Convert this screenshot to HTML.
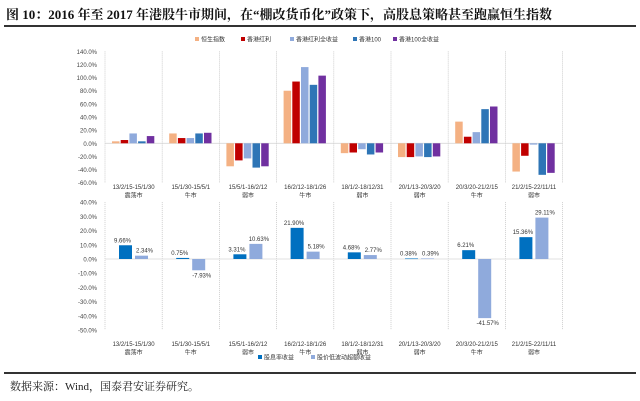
<!DOCTYPE html>
<html><head><meta charset="utf-8">
<style>
html,body{margin:0;padding:0;background:#fff;}
body{width:640px;height:401px;overflow:hidden;position:relative;font-family:"Liberation Serif","Noto Serif CJK SC",serif;}
#title{position:absolute;left:6px;top:4px;font-size:13px;font-weight:bold;color:#111;white-space:nowrap;}
#tline{position:absolute;left:4px;top:25px;width:632px;height:1.5px;background:#333;}
#bline{position:absolute;left:4px;top:372px;width:632px;height:1.5px;background:#333;}
#src{position:absolute;left:10px;top:378px;font-size:11px;color:#222;}
svg{position:absolute;left:0;top:0;}
</style></head><body>
<div id="title">图 10：2016 年至 2017 年港股牛市期间，在“棚改货币化”政策下，高股息策略甚至跑赢恒生指数</div>
<div id="tline"></div>
<svg id="chart" width="640" height="401"></svg>
<div id="bline"></div>
<div id="src">数据来源：Wind，国泰君安证券研究。</div>
<script>
const categories = ["13/2/15-15/1/30","15/1/30-15/5/1","15/5/1-16/2/12","16/2/12-18/1/26","18/1/2-18/12/31","20/1/13-20/3/20","20/3/20-21/2/15","21/2/15-22/11/11"];
const phases = ["震荡市","牛市","弱市","牛市","弱市","弱市","牛市","弱市"];
const topSeriesNames = ["恒生指数","香港红利","香港红利全收益","香港100","香港100全收益"];
const hsi = [3,15,-35,80,-15,-21,33,-43];
const hkDiv = [5,8,-26,94,-14,-21,10,-19];
const hkDivTR = [15,8,-23,116,-9,-20,17,-2];
const hk100 = [3,15,-37,89,-17,-21,52,-48];
const hk100TR = [11,16,-35,103,-14,-20,56,-45];
const topTicks = [140,120,100,80,60,40,20,0,-20,-40,-60];
const bottomSeriesNames = ["股息率收益","股价低波动超额收益"];
const divYield = [9.66,0.75,3.31,21.90,4.68,0.38,6.21,15.36];
const lowVol = [2.34,-7.93,10.63,5.18,2.77,0.39,-41.57,29.11];
const bottomTicks = [40,30,20,10,0,-10,-20,-30,-40,-50];

const topColors = ["#F4B183","#C00000","#8FAADC","#2E75B6","#7030A0"];
const botColors = ["#0070C0","#8FAADC"];
const svg = document.getElementById('chart');
const NS = "http://www.w3.org/2000/svg";
function mk(tag, attrs, parent){const e=document.createElementNS(NS,tag);for(const k in attrs)e.setAttribute(k,attrs[k]);(parent||svg).appendChild(e);return e;}
const X0=105, GW=57.2, N=categories.length;
const yTop = v => 143.3 - v*(131.4/200);
const yBot = v => 259 - v*(128/90);
const F = '"Liberation Sans","Noto Sans CJK SC",sans-serif';

topTicks.forEach(t=>{
  const tx=mk('text',{x:97,y:yTop(t)+2.5,'text-anchor':'end','font-size':6,'font-family':F,fill:'#444'});
  tx.textContent=t.toFixed(1)+'%';
  
  
});
bottomTicks.forEach(t=>{
  const tx=mk('text',{x:97,y:yBot(t)+2.5,'text-anchor':'end','font-size':6,'font-family':F,fill:'#444'});
  tx.textContent=t.toFixed(1)+'%';
  
  
});
for(let i=0;i<=N;i++){
  const x=X0+i*GW;
  const d1=mk('line',{x1:x,x2:x,y1:yTop(140),y2:yTop(-60),stroke:'#bbb','stroke-dasharray':'1,1','stroke-width':0.7});
  
  
  const d2=mk('line',{x1:x,x2:x,y1:yBot(40),y2:yBot(-50),stroke:'#bbb','stroke-dasharray':'1,1','stroke-width':0.7});
  
  
}
const z1=mk('line',{x1:X0,x2:X0+N*GW,y1:yTop(0),y2:yTop(0),stroke:'#d9d9d9','stroke-width':0.8});


const z2=mk('line',{x1:X0,x2:X0+N*GW,y1:yBot(0),y2:yBot(0),stroke:'#d9d9d9','stroke-width':0.8});



const topData=[hsi,hkDiv,hkDivTR,hk100,hk100TR];
const topNames=['bar-hsi','bar-hk-dividend','bar-hk-dividend-tr','bar-hk100','bar-hk100-tr'];
for(let g=0;g<N;g++){
  topData.forEach((arr,s)=>{
    const v=arr[g];const x=X0+g*GW+7+s*8.7;
    const y1=yTop(Math.max(v,0)), y2=yTop(Math.min(v,0));
    const r=mk('rect',{x:x,y:y1,width:7.5,height:Math.max(y2-y1,0.5),fill:topColors[s]});
    
    
  });
  const cx=X0+g*GW+GW/2;
  [[189,categories[g],'top-category-label'],[197.5,phases[g],'top-phase-label'],[346,categories[g],'bottom-category-label'],[354.5,phases[g],'bottom-phase-label']].forEach(([y,t,n])=>{
    const tx=mk('text',{x:cx,y:y,'text-anchor':'middle','font-size':6,'font-family':F,fill:'#333'});
    tx.textContent=t;
    
    
  });
  [divYield,lowVol].forEach((arr,s)=>{
    const v=arr[g];const x=X0+g*GW+14+s*16;
    const y1=yBot(Math.max(v,0)), y2=yBot(Math.min(v,0));
    const r=mk('rect',{x:x,y:y1,width:13,height:Math.max(y2-y1,0.6),fill:botColors[s]});
    
    
    const ly = v>=0 ? yBot(v)-3 : yBot(v)+7;
    const tx=mk('text',{x:x+6.5+(s===0?-3:3),y:ly,'text-anchor':'middle','font-size':6,'font-family':F,fill:'#333'});
    tx.textContent=v.toFixed(2)+'%';
    
    
  });
}
const topLegX=[195,241,290,353,393];
topSeriesNames.forEach((n,i)=>{
  const r=mk('rect',{x:topLegX[i],y:37,width:4,height:4,fill:topColors[i]});
  
  
  const tx=mk('text',{x:topLegX[i]+6,y:41.5,'font-size':6,'font-family':F,fill:'#333'});
  tx.textContent=n;
  
  
});
const botLegX=[258,311];
bottomSeriesNames.forEach((n,i)=>{
  const r=mk('rect',{x:botLegX[i],y:355,width:4,height:4,fill:botColors[i]});
  
  
  const tx=mk('text',{x:botLegX[i]+6,y:359.5,'font-size':6,'font-family':F,fill:'#333'});
  tx.textContent=n;
  
  
});
</script>
</body></html>
